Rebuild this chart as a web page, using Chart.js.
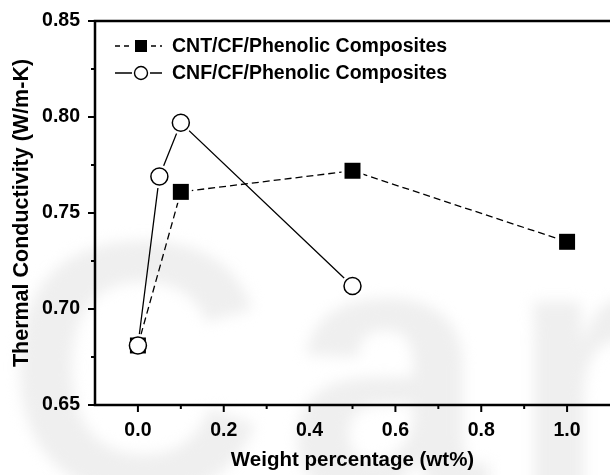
<!DOCTYPE html>
<html><head><meta charset="utf-8">
<script src="https://cdn.jsdelivr.net/npm/chart.js@4.4.1/dist/chart.umd.min.js"></script>
<style>html,body{margin:0;padding:0;background:#fff}#wrap{width:610px;height:475px;position:relative}</style>
</head><body><div id="wrap"><canvas id="c"></canvas></div>
<script>
// ---- data ----
const seriesNames = ['CNT/CF/Phenolic Composites', 'CNF/CF/Phenolic Composites'];
const cntX = [0.0, 0.1, 0.5, 1.0];
const cntY = [0.681, 0.761, 0.772, 0.735];
const cnfX = [0.0, 0.05, 0.1, 0.5];
const cnfY = [0.681, 0.769, 0.797, 0.712];
const xTicks = [0.0, 0.2, 0.4, 0.6, 0.8, 1.0];
const xMinorTicks = [0.1, 0.3, 0.5, 0.7, 0.9];
const yTicks = [0.65, 0.70, 0.75, 0.80, 0.85];
const yMinorTicks = [0.675, 0.725, 0.775, 0.825];
const xTitle = 'Weight percentage (wt%)';
const yTitle = 'Thermal Conductivity (W/m-K)';
const watermark = 'Car';

const FONT = 'Arial, "Liberation Sans", Helvetica, sans-serif';
const pts = (xs, ys) => xs.map((x, i) => ({x: x, y: ys[i]}));

const bgPlugin = {
  id: 'bg',
  beforeDraw(chart) {
    const ctx = chart.ctx;
    ctx.save();
    ctx.fillStyle = '#fff';
    ctx.fillRect(0, 0, chart.width, chart.height);
    ctx.filter = 'blur(7px)';
    ctx.fillStyle = '#efefef';
    ctx.font = 'bold 360px ' + FONT;
    try { ctx.letterSpacing = '22px'; } catch (e) {}
    ctx.textBaseline = 'alphabetic';
    ctx.fillText(watermark, 5, 492);
    ctx.restore();
  }
};

const framePlugin = {
  id: 'frame',
  afterDraw(chart) {
    const ctx = chart.ctx, a = chart.chartArea;
    const xs = chart.scales.x, ys = chart.scales.y;
    ctx.save();
    ctx.strokeStyle = '#000';
    ctx.lineWidth = 2.5;
    ctx.beginPath();
    ctx.moveTo(a.left, a.bottom); ctx.lineTo(a.left, a.top - 1.25);
    ctx.moveTo(a.left - 1.25, a.bottom); ctx.lineTo(a.right, a.bottom);
    ctx.moveTo(a.left - 1.25, a.top); ctx.lineTo(a.right, a.top);
    ctx.stroke();
    ctx.lineWidth = 2;
    ctx.beginPath();
    xTicks.forEach(v => { const p = xs.getPixelForValue(v); ctx.moveTo(p, a.bottom); ctx.lineTo(p, a.bottom + 7); });
    xMinorTicks.forEach(v => { const p = xs.getPixelForValue(v); ctx.moveTo(p, a.bottom); ctx.lineTo(p, a.bottom + 4); });
    yTicks.forEach(v => { const p = ys.getPixelForValue(v); ctx.moveTo(a.left, p); ctx.lineTo(a.left - 7, p); });
    yMinorTicks.forEach(v => { const p = ys.getPixelForValue(v); ctx.moveTo(a.left, p); ctx.lineTo(a.left - 4, p); });
    ctx.stroke();

    // legend
    const lx0 = a.left + 20, lx1 = a.left + 67, mx = a.left + 46, tx = a.left + 77;
    const r1 = a.top + 25, r2 = a.top + 52;
    ctx.lineWidth = 1.3;
    ctx.setLineDash([5, 4]);
    ctx.beginPath(); ctx.moveTo(lx0, r1); ctx.lineTo(mx - 10, r1); ctx.moveTo(mx + 10, r1); ctx.lineTo(lx1, r1); ctx.stroke();
    ctx.setLineDash([]);
    ctx.fillStyle = '#000';
    ctx.fillRect(mx - 6, r1 - 6, 12, 12);
    ctx.beginPath(); ctx.moveTo(lx0, r2); ctx.lineTo(mx - 9, r2); ctx.moveTo(mx + 9, r2); ctx.lineTo(lx1, r2); ctx.stroke();
    ctx.beginPath(); ctx.arc(mx, r2, 6.5, 0, Math.PI * 2); ctx.fillStyle = '#fff'; ctx.fill(); ctx.lineWidth = 1.4; ctx.stroke();
    ctx.fillStyle = '#000';
    ctx.font = 'bold 19.5px ' + FONT;
    ctx.textBaseline = 'middle';
    ctx.textAlign = 'left';
    ctx.fillText(seriesNames[0], tx, r1 + 1);
    ctx.fillText(seriesNames[1], tx, r2 + 1);
    ctx.restore();
  }
};

new Chart(document.getElementById('c'), {
  type: 'scatter',
  data: {
    datasets: [
      {label: seriesNames[1] + ' markers', data: pts(cnfX, cnfY), showLine: false, pointStyle: 'circle',
       pointRadius: 8.5, pointBackgroundColor: '#fff', pointBorderColor: '#000', pointBorderWidth: 1.5, order: 0},
      {label: seriesNames[0] + ' markers', data: pts(cntX, cntY), showLine: false, pointStyle: 'rect',
       pointRadius: 11.3, pointBackgroundColor: '#000', pointBorderColor: '#000', pointBorderWidth: 0, order: 1},
      {label: 'halo1', data: pts(cnfX, cnfY), showLine: false, pointStyle: 'circle',
       pointRadius: 11.5, pointBackgroundColor: '#fff', pointBorderWidth: 0, order: 2},
      {label: 'halo0', data: pts(cntX, cntY), showLine: false, pointStyle: 'rect',
       pointRadius: 15.5, pointBackgroundColor: '#fff', pointBorderWidth: 0, order: 2},
      {label: seriesNames[0], data: pts(cntX, cntY), showLine: true, borderColor: '#000', borderWidth: 1.3,
       borderDash: [7, 4], pointRadius: 0, fill: false, order: 3},
      {label: seriesNames[1], data: pts(cnfX, cnfY), showLine: true, borderColor: '#000', borderWidth: 1.3,
       pointRadius: 0, fill: false, order: 3}
    ]
  },
  options: {
    responsive: true,
    maintainAspectRatio: false,
    animation: false,
    events: [],
    layout: {autoPadding: false, padding: {top: 21, left: 0, right: 0, bottom: 0}},
    plugins: {legend: {display: false}, tooltip: {enabled: false}},
    scales: {
      x: {
        type: 'linear', min: -0.1, max: 1.1,
        afterBuildTicks: s => { s.ticks = xTicks.map(v => ({value: v})); },
        afterFit: s => { s.height = 70; s.paddingLeft = 0; s.paddingRight = 0; },
        grid: {display: false, drawTicks: false},
        border: {display: false},
        ticks: {color: '#000', padding: 14, font: {family: FONT, size: 19.5, weight: 'bold'},
                callback: v => Number(v).toFixed(1), maxRotation: 0, autoSkip: false},
        title: {display: true, text: xTitle, color: '#000', font: {family: FONT, size: 20.5, weight: 'bold'},
                padding: {top: 0, bottom: 2}}
      },
      y: {
        type: 'linear', min: 0.65, max: 0.85,
        afterBuildTicks: s => { s.ticks = yTicks.map(v => ({value: v})); },
        afterFit: s => { s.width = 95; s.paddingTop = 0; s.paddingBottom = 0; },
        grid: {display: false, drawTicks: false},
        border: {display: false},
        ticks: {color: '#000', padding: 15, font: {family: FONT, size: 19.5, weight: 'bold'},
                callback: v => Number(v).toFixed(2), autoSkip: false},
        title: {display: true, text: yTitle, color: '#000', font: {family: FONT, size: 21.5, weight: 'bold'},
                padding: {top: 9, bottom: 0}}
      }
    }
  },
  plugins: [bgPlugin, framePlugin]
});
</script>
</body></html>
